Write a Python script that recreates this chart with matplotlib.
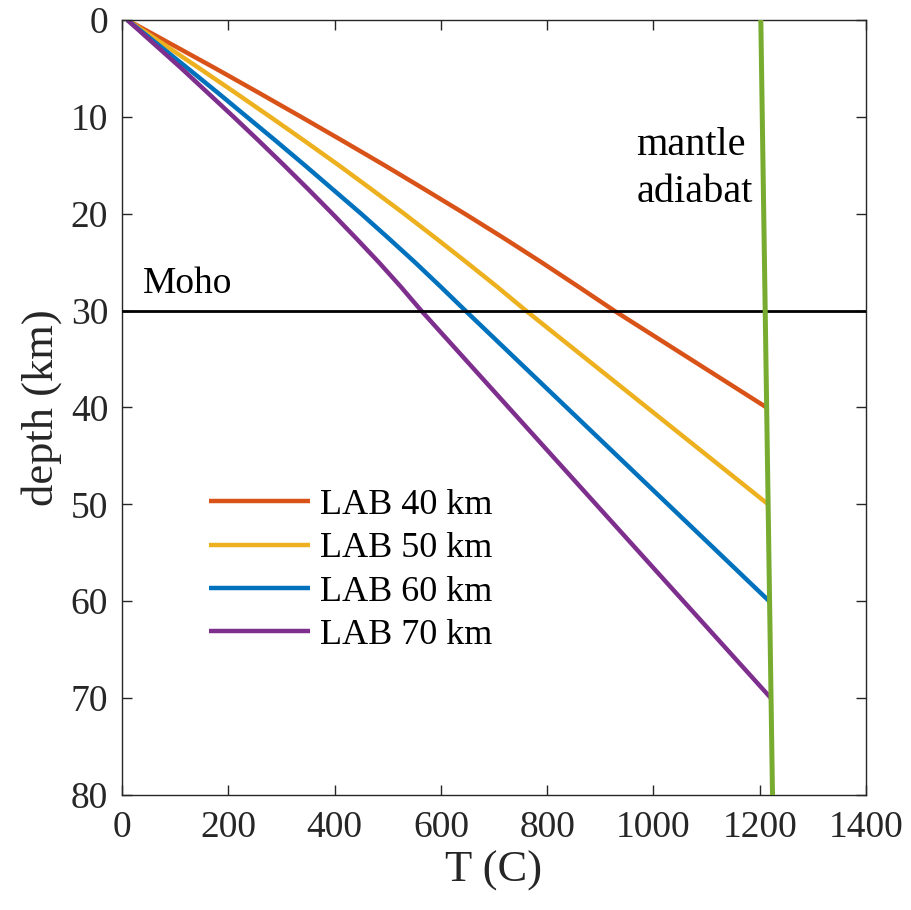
import matplotlib
matplotlib.use("Agg")
import matplotlib.pyplot as plt

plt.rcParams["font.family"] = ["Liberation Serif", "DejaVu Serif"]

# Geotherms (depth in km, temperature in C)
depth_crust = [0, 2.5, 5, 7.5, 10, 12.5, 15, 17.5, 20, 22.5, 25, 27.5, 30]

depth_lab40 = depth_crust + [40]
temp_lab40 = [10, 93, 176, 257, 337, 416, 494, 570, 645, 718, 789, 858, 926, 1213]

depth_lab50 = depth_crust + [50]
temp_lab50 = [10, 78, 146, 213, 279, 344, 408, 470, 531, 590, 648, 705, 760, 1216]

depth_lab60 = depth_crust + [60]
temp_lab60 = [10, 67, 124, 180, 235, 290, 344, 397, 450, 501, 551, 599, 646, 1218]

depth_lab70 = depth_crust + [70]
temp_lab70 = [10, 61, 112, 161, 210, 258, 305, 351, 396, 440, 483, 524, 563, 1221]

depth_adiabat = [0, 80]
temp_adiabat = [1202, 1224]

moho_depth = 30

labels = ["LAB 40 km", "LAB 50 km", "LAB 60 km", "LAB 70 km"]
colors = ["#D95319", "#EDB120", "#0072BD", "#7E2F8E"]

x_ticks = [0, 200, 400, 600, 800, 1000, 1200, 1400]
y_ticks = [0, 10, 20, 30, 40, 50, 60, 70, 80]

fig = plt.figure(figsize=(9.12, 9.10), dpi=100)
ax = fig.add_axes([0.1338, 0.1264, 0.8158, 0.8516])

curves = [(temp_lab40, depth_lab40), (temp_lab50, depth_lab50),
          (temp_lab60, depth_lab60), (temp_lab70, depth_lab70)]
for (t, d), lab, c in zip(curves, labels, colors):
    ax.plot(t, d, color=c, lw=3.2, label=lab, zorder=2,
            solid_capstyle="butt", solid_joinstyle="round")

ax.axhline(moho_depth, color="black", lw=2, zorder=3)
ax.plot(temp_adiabat, depth_adiabat, color="#77AC30", lw=3.6, zorder=4)

ax.text(40, 28.2, "Moho", fontsize=27, va="baseline", ha="left")
ax.text(968, 13.9, "mantle", fontsize=29, va="baseline", ha="left")
ax.text(968, 18.75, "adiabat", fontsize=29, va="baseline", ha="left")

ax.set_xlim(0, 1400)
ax.set_ylim(80, 0)
ax.set_xticks(x_ticks)
ax.set_yticks(y_ticks)
ax.tick_params(direction="in", top=True, right=True, length=7, width=1,
               color="#262626", labelsize=27, labelcolor="#262626")
ax.tick_params(axis="x", pad=11)
ax.tick_params(axis="y", pad=10)
for s in ax.spines.values():
    s.set_color("#262626")
    s.set_linewidth(1)

ax.set_xlabel("T (C)", fontsize=32, color="#262626", labelpad=4)
ax.set_ylabel("depth (km)", fontsize=32, color="#262626", labelpad=6)

ax.legend(loc="upper left", bbox_to_anchor=(0.097, 0.414), frameon=False,
          fontsize=26, handlelength=2.8, handletextpad=0.28, labelspacing=0.28,
          borderaxespad=0)

fig.savefig("out.png", dpi=100)
